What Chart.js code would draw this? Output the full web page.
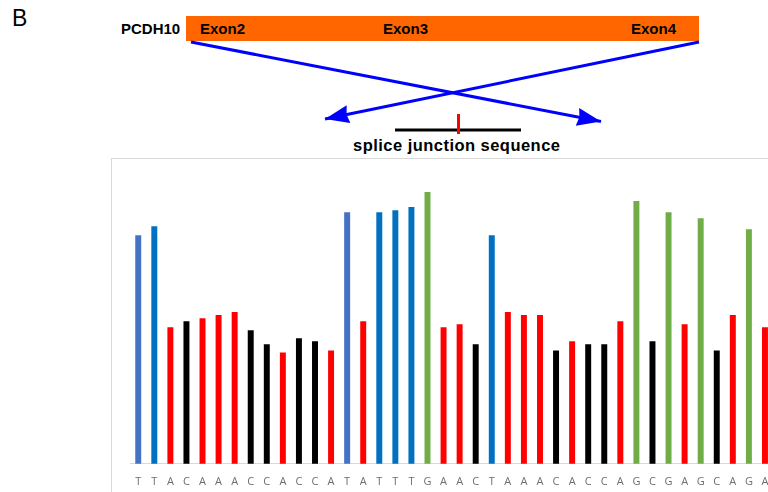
<!DOCTYPE html>
<html>
<head>
<meta charset="utf-8">
<script src="https://cdn.jsdelivr.net/npm/chart.js@4.4.1/dist/chart.umd.min.js"></script>
<style>
  html, body { margin: 0; padding: 0; background: #fff; overflow: hidden; width: 768px; height: 492px; }
  #diagram { position: absolute; left: 0; top: 0; }
  #chartBox {
    position: absolute; left: 111px; top: 158px;
    width: 680px; height: 354px;
    border: 1px solid #D9D9D9;
  }
  #chartBox canvas { display: block; }
</style>
</head>
<body>

<!-- gene diagram above the trace -->
<svg id="diagram" width="768" height="160" font-family="Liberation Sans, Arial, sans-serif">
  <defs>
    <marker id="head" markerUnits="userSpaceOnUse" markerWidth="26" markerHeight="20"
            refX="24" refY="9" orient="auto">
      <polygon points="0,0 24,9 0,18 2,9" fill="#0000FF"/>
    </marker>
  </defs>
  <text x="12" y="26" font-size="23" fill="#000">B</text>
  <text x="121" y="34" font-size="15" font-weight="bold" fill="#000">PCDH10</text>
  <rect x="186" y="16" width="513" height="25" fill="#FF6600"/>
  <text x="200" y="34" font-size="15" font-weight="bold" fill="#000">Exon2</text>
  <text x="383" y="34" font-size="15" font-weight="bold" fill="#000">Exon3</text>
  <text x="631" y="34" font-size="15" font-weight="bold" fill="#000">Exon4</text>
  <line x1="191" y1="42" x2="601" y2="121.5" stroke="#0000FF" stroke-width="3" marker-end="url(#head)"/>
  <line x1="699" y1="42" x2="325" y2="119" stroke="#0000FF" stroke-width="3" marker-end="url(#head)"/>
  <line x1="395" y1="130" x2="521" y2="130" stroke="#000" stroke-width="3"/>
  <line x1="458.5" y1="114" x2="458.5" y2="134" stroke="#FF0000" stroke-width="3"/>
  <text x="353" y="151" font-size="16.5" font-weight="bold" fill="#000"
        textLength="207" lengthAdjust="spacing">splice junction sequence</text>
</svg>

<div id="chartBox"><canvas id="trace" width="680" height="354"></canvas></div>

<script>
// --- DATA ---
const bases = ['T','T','A','C','A','A','A','C','C','A','C','C','A','T','A','T','T','T','G','A',
               'A','C','T','A','A','A','C','A','C','C','A','G','C','G','A','G','C','A','G','A'];
const signal = [226, 235, 135, 141, 144, 147, 150, 132, 118, 110, 124, 121, 112, 249, 141, 249, 251, 254, 269, 135,
                138, 118, 226, 150, 147, 147, 112, 121, 118, 118, 141, 260, 121, 249, 138, 243, 112, 147, 232, 135];

// --- STYLE ---
const baseColor = { A: '#FF0000', C: '#000000', G: '#70AD47', T: '#0070C0' };
const paleT = new Set([0, 13]);   // two T peaks drawn in the lighter blue
const colors = bases.map((b, i) => (b === 'T' && paleT.has(i)) ? '#4472C4' : baseColor[b]);

new Chart(document.getElementById('trace').getContext('2d'), {
    type: 'bar',
    data: {
        labels: bases,
        datasets: [{
            data: signal,
            backgroundColor: colors,
            borderWidth: 0,
            barThickness: 5.3
        }]
    },
    options: {
        responsive: false,
        animation: false,
        layout: { padding: { left: 18.2, right: 19, top: 2, bottom: 14 } },
        plugins: { legend: { display: false }, tooltip: { enabled: false } },
        scales: {
            x: {
                grid: { display: false, drawTicks: false },
                border: { display: true, color: '#D9D9D9', width: 1 },
                ticks: {
                    color: '#6E6E6E',
                    padding: 11,
                    maxRotation: 0,
                    autoSkip: false,
                    font: { family: 'Open Sans, Liberation Sans, sans-serif', size: 11 }
                }
            },
            y: {
                display: false,
                min: 0,
                max: 300
            }
        }
    }
});
</script>
</body>
</html>
